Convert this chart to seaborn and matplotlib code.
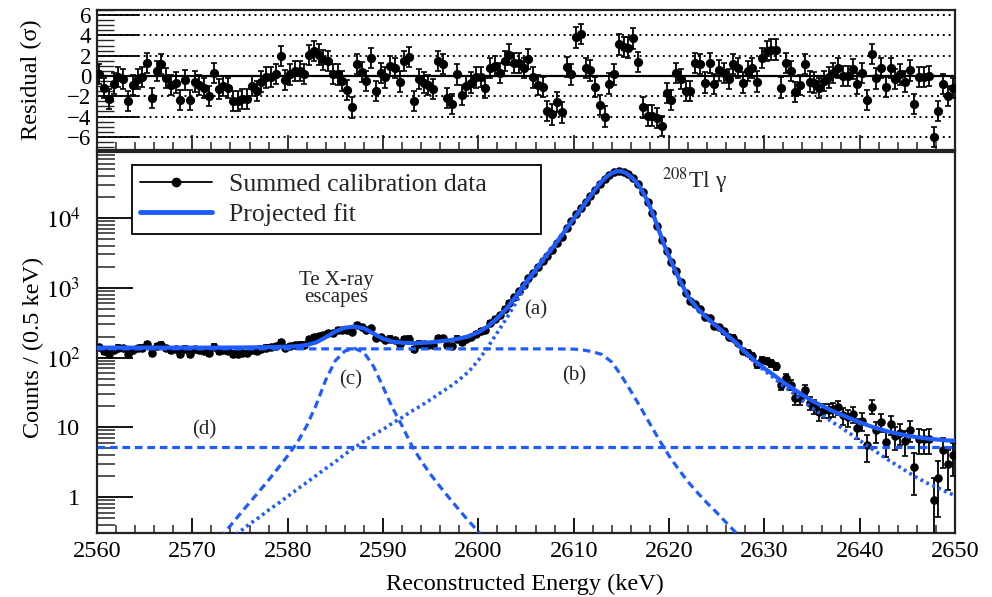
import numpy as np
import matplotlib
matplotlib.use("Agg")
import matplotlib.pyplot as plt
import seaborn as sns
from matplotlib.lines import Line2D
from matplotlib.ticker import MultipleLocator, FixedLocator, FixedFormatter, LogLocator, NullFormatter

# ---------------- data ----------------
# 0.5 keV bins, centres 2560.25 ... 2649.75
bin_energy = np.arange(2560.25, 2650.0, 0.5)

counts = [141, 125, 114, 130, 137, 135, 112, 128, 135, 137,
          155, 115, 144.5, 153, 136, 128, 131, 113, 134, 113,
          132, 128, 125, 117, 142, 124, 128, 125, 113, 113,
          115, 115, 128, 123, 134, 139, 140, 144, 168, 138,
          145, 150.5, 152.6, 152, 182, 195, 202, 210, 228, 228,
          246, 252, 248, 229, 295, 274, 244, 261, 190, 198,
          179, 187, 178, 157.5, 183, 187, 132, 158, 154, 153,
          150, 190, 189, 149, 146, 186.5, 166, 184.4, 199, 220,
          239.5, 246.6, 313, 361, 402, 504, 614, 731, 909, 1106,
          1390, 1624, 1960, 2425, 2846, 3466, 4375, 5415, 7276, 8914,
          11304, 13991, 16847, 20829, 25573, 30746, 35983, 41597, 45432, 47471,
          46007, 42070, 36954, 30494, 23272, 16984, 11720, 7687, 4859, 3353,
          2334, 1712, 1190, 837, 642, 591, 490, 387, 369, 286,
          271, 236, 198, 193, 162, 123, 117, 105, 80, 92,
          89.5, 83, 75, 40, 51, 41, 26.3, 26, 34.4, 22.6,
          20.1, 16.5, 17.6, 17.6, 18.3, 19.3, 14.8, 13.9, 15.5, 9.9,
          12.5, 5.5, 19.8, 9.0, 11.9, 6.2, 11.0, 7.4, 8.4, 6.4,
          9.2, 2.7, 6.8, 6.7, 6.8, 0.92, 1.9, 4.8, 3.0, 4.0]

residuals = [0.2, -1.2, -2.3, -0.75, -0.1, -0.3, -2.5, -0.9, -0.3, -0.1,
             1.3, -2.2, 0.5, 1.15, -0.2, -0.9, -0.65, -2.4, -0.4, -2.4,
             -0.55, -0.9, -1.2, -2.0, 0.3, -1.3, -1.0, -1.2, -2.5, -2.5,
             -2.3, -2.3, -1.0, -1.5, -0.55, -0.15, -0.1, 0.2, 2.0, -0.4,
             0.15, 0.5, 0.5, 0.2, 2.05, 2.45, 2.1, 1.6, 1.5, 0.2,
             0.15, -0.5, -1.4, -3.1, 1.15, 0.4, -0.5, 1.8, -1.5, 0.3,
             -0.15, 1.0, 0.8, -0.55, 1.5, 1.85, -2.5, -0.3, -0.65, -0.9,
             -1.3, 1.5, 1.2, -2.2, -2.8, 0.15, -1.9, -1.0, -0.65, -0.15,
             -0.1, -1.2, 0.75, 1.0, 0.3, 1.5, 2.1, 1.3, 1.3, 0.8,
             1.65, -0.15, -0.9, -1.1, -3.45, -3.8, -2.6, -3.6, 0.9, 0.15,
             3.8, 4.15, 0.75, 0.55, -1.1, -2.85, -4.0, -0.75, 0.15, 3.1,
             2.85, 2.8, 3.7, 1.4, -3.1, -3.9, -3.9, -4.15, -4.9, -1.65,
             -2.4, 0.3, -0.3, -1.5, -1.5, 1.3, 1.15, -0.65, 1.3, -0.8,
             0.55, 0.3, -0.3, 1.15, 0.8, -0.65, 0.5, 0.75, -0.55, 1.8,
             2.45, 2.6, 2.6, -1.15, 1.3, 0.5, -1.55, -0.9, 1.15, -0.55,
             -0.65, -1.2, -0.5, -0.15, 0.3, 0.8, 0.0, 0.0, 0.65, -0.75,
             0.3, -2.4, 2.15, -0.25, 0.75, -1.1, 0.75, -0.3, 0.15, -0.55,
             0.55, -2.8, -0.1, -0.1, 0.0, -6.05, -3.45, -0.8, -2.0, -1.2]

# fit curves
fit_energy = np.concatenate([np.arange(2560, 2610), np.arange(2610, 2620.5, 0.5), np.arange(2621, 2651)])
fit_total = [138.5] * 12 + [
    138.6, 138.7, 138.9, 139.2, 139.6, 140.2, 140.8, 141.8,
    143, 145, 151, 165, 195, 236, 267, 278, 262, 221,
    186, 169, 163, 161, 162, 165, 171, 177, 187, 202,
    230, 280, 367, 510, 770, 1200, 1800, 2750, 4100, 6300,
    9800, 12000, 15000, 18500, 23000, 28500, 34000, 39500, 44000, 46800,
    46800, 44000, 39000, 33500, 27000, 20500, 14500, 9800, 6300, 4100, 2800,
    1400, 750, 500, 370, 280, 215, 165, 120, 90, 70,
    56, 44, 36, 29, 24, 20.5, 17.5, 15.3, 13.4, 11.8,
    10.5, 9.5, 8.7, 8.1, 7.6, 7.2, 6.9, 6.7, 6.5, 6.4]

# (a) photopeak line shape
a_energy = np.concatenate([np.arange(2574, 2610), np.arange(2610, 2620.5, 0.5), np.arange(2621, 2651)])
a_values = [0.26, 0.32, 0.41, 0.51, 0.65, 0.81,
            1.02, 1.29, 1.62, 2.04, 2.57, 3.2, 4.1, 5.1, 6.3, 7.8,
            9.3, 11.5, 13.8, 17, 20.4, 25, 31, 38, 48, 63,
            91, 141, 229, 372, 630, 1060, 1660, 2610, 3960, 6160,
            9660, 11860, 14860, 18370, 22870, 28380, 33890, 39400, 43910, 46730,
            46740, 43950, 38960, 33470, 26975, 20480, 14480, 9786, 6290, 4092, 2792,
            1390, 743, 494, 364, 274, 209, 160, 115, 85, 65,
            51, 39, 31, 24, 19, 15.2, 12.2, 10, 8.1, 6.5,
            5.2, 4.2, 3.4, 2.8, 2.3, 1.9, 1.6, 1.4, 1.2, 1.05]

# (b) smeared step
b_energy = [2560, 2608, 2610, 2611, 2612, 2613, 2614, 2615, 2616, 2617, 2618,
            2619, 2620, 2621, 2622, 2623, 2624, 2625, 2626, 2627, 2628]
b_values = [133, 133, 132, 128, 121, 110, 86, 55, 33, 19.5, 11.2,
            6.5, 3.9, 2.5, 1.65, 1.15, 0.82, 0.6, 0.43, 0.31, 0.22]

# (c) Te X-ray escape peaks
c_energy = list(range(2572, 2602))
c_values = [0.19, 0.27, 0.39, 0.57, 0.83, 1.2, 1.75, 2.6, 3.9, 6.0,
            10.5, 21, 48, 90, 124, 135, 118, 75, 38, 19,
            10.5, 5.5, 3.3, 2.1, 1.4, 0.95, 0.65, 0.45, 0.32, 0.22]

# (d) flat continuum
d_level = 5.3

y_ticks = [1, 10, 100, 1000, 10000]
y_ticklabels = ["1", "10", r"$10^{2}$", r"$10^{3}$", r"$10^{4}$"]
res_ticks = [-6, -4, -2, 0, 2, 4, 6]

# ---------------- style ----------------
sns.set_theme(style="ticks")
plt.rcParams["font.family"] = ["Liberation Serif", "DejaVu Serif"]
plt.rcParams["mathtext.fontset"] = "stix"
plt.rcParams["axes.unicode_minus"] = True

BLUE = "#1f5cff"
DASH = (0, (2.4, 1.5))
DOT = (0, (0.8, 1.0))

fig = plt.figure(figsize=(9.92, 5.97), dpi=100)
ax = fig.add_axes([97 / 992, 64 / 597, 858 / 992, 381 / 597])
axr = fig.add_axes([97 / 992, 447 / 597, 858 / 992, 140 / 597], sharex=ax)

# ---------------- main panel ----------------
cnt = np.asarray(counts, dtype=float)
err = np.sqrt(cnt)
lower = np.minimum(err, cnt - 1e-3)
ax.errorbar(bin_energy, cnt, yerr=[lower, err], fmt="none", ecolor="black",
            elinewidth=1.3, capsize=2.4, capthick=1.2, zorder=3)
sns.scatterplot(x=bin_energy, y=cnt, ax=ax, color="black", s=38, linewidth=0, zorder=3)

sns.lineplot(x=c_energy, y=c_values, ax=ax, color=BLUE, linewidth=2.3, linestyle=DASH,
             estimator=None, errorbar=None, zorder=4)
sns.lineplot(x=b_energy, y=b_values, ax=ax, color=BLUE, linewidth=2.3, linestyle=DASH,
             estimator=None, errorbar=None, zorder=4)
sns.lineplot(x=a_energy, y=a_values, ax=ax, color=BLUE, linewidth=2.6, linestyle=DOT,
             estimator=None, errorbar=None, zorder=4)
ax.axhline(d_level, color=BLUE, linewidth=2.3, linestyle=DASH, zorder=4)
sns.lineplot(x=fit_energy, y=fit_total, ax=ax, color=BLUE, linewidth=3.0,
             estimator=None, errorbar=None, zorder=5)

ax.set_yscale("log")
ax.set_xlim(2560, 2650)
ax.set_ylim(0.305, 88300)
ax.xaxis.set_major_locator(MultipleLocator(10))
ax.xaxis.set_minor_locator(MultipleLocator(2))
ax.yaxis.set_major_locator(FixedLocator(y_ticks))
ax.yaxis.set_major_formatter(FixedFormatter(y_ticklabels))
ax.yaxis.set_minor_locator(LogLocator(base=10, subs=np.arange(2, 10), numticks=30))
ax.yaxis.set_minor_formatter(NullFormatter())
ax.tick_params(axis="x", which="major", direction="in", length=11, width=1.3,
               labelsize=17.5, pad=6, top=False, colors="black")
ax.tick_params(axis="x", which="minor", direction="in", length=6, width=1.1, top=False)
ax.tick_params(axis="y", which="major", direction="in", length=26, width=1.3,
               labelsize=17.5, pad=12, right=False, colors="black")
ax.tick_params(axis="y", which="minor", direction="in", length=13, width=1.1, right=False)

ax.set_xlabel("Reconstructed Energy (keV)", fontsize=17.5, color="black")
ax.xaxis.set_label_coords(0.499, -0.106)
ax.set_ylabel("Counts / (0.5 keV)", fontsize=17.5, color="black")
ax.yaxis.set_label_coords(-0.062, 0.487)

ax.text(2606.0, 488, "(a)", fontsize=15, ha="center", va="center")
ax.text(2610.1, 55.2, "(b)", fontsize=15, ha="center", va="center")
ax.text(2586.6, 48.4, "(c)", fontsize=15, ha="center", va="center")
ax.text(2571.2, 9.29, "(d)", fontsize=15, ha="center", va="center")
ax.text(2585.1, 960, "Te X-ray\nescapes", fontsize=15, ha="center", va="center", linespacing=0.9)
ax.text(2619.3, 26900, r"$^{208}$Tl γ", fontsize=17, ha="left", va="baseline")

h1 = Line2D([], [], color="black", linewidth=1.3, marker="o", markersize=6)
h2 = Line2D([], [], color=BLUE, linewidth=3.5)
leg = ax.legend([h1, h2], ["Summed calibration data", "Projected fit"], loc="upper left",
                bbox_to_anchor=(0.041, 0.777, 0.476, 0.189), mode="expand", borderaxespad=0,
                fontsize=18.5, frameon=True, fancybox=False, edgecolor="black", framealpha=1,
                handlelength=2.8, handletextpad=0.65, borderpad=0.3, labelspacing=0.3)
leg.get_frame().set_linewidth(1.3)

# ---------------- residual panel ----------------
for lvl in [-6, -4, -2, 2, 4, 6]:
    axr.axhline(lvl, color="black", linewidth=1.4, linestyle=(0, (1, 2)), zorder=1)
axr.axhline(0, color="black", linewidth=1.6, zorder=1)
axr.errorbar(bin_energy, residuals, yerr=1.0, fmt="none", ecolor="black",
             elinewidth=1.3, capsize=2.4, capthick=1.2, zorder=3)
sns.scatterplot(x=bin_energy, y=residuals, ax=axr, color="black", s=44, linewidth=0, zorder=4)

axr.set_ylim(-7.3, 6.5)
axr.yaxis.set_major_locator(FixedLocator(res_ticks))
axr.yaxis.set_minor_locator(MultipleLocator(0.5))
axr.tick_params(axis="y", which="major", direction="in", length=30, width=1.3,
                labelsize=16.5, pad=4, right=False, colors="black")
axr.tick_params(axis="y", which="minor", direction="in", length=12, width=1.0, right=False)
axr.tick_params(axis="x", which="major", direction="in", length=11, width=1.3,
                labelbottom=False, top=False)
axr.tick_params(axis="x", which="minor", direction="in", length=6, width=1.1, top=False)
axr.set_ylabel("Residual (σ)", fontsize=17.5, color="black")
axr.yaxis.set_label_coords(-0.064, 0.5)
axr.set_xlabel("")

for a in (ax, axr):
    for s in a.spines.values():
        s.set_linewidth(1.6)
        s.set_color("#222222")
        s.set_visible(True)

fig.savefig("out.png", dpi=100)
